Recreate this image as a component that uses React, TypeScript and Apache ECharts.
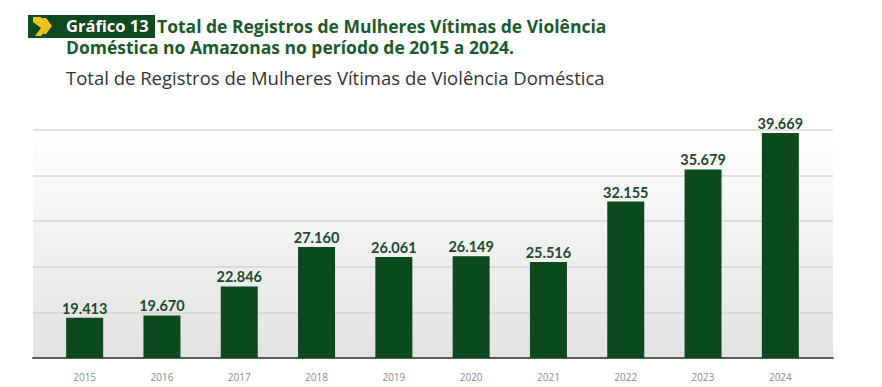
import React, { useEffect, useRef } from "react";
import * as echarts from "echarts";

const years = ["2015", "2016", "2017", "2018", "2019", "2020", "2021", "2022", "2023", "2024"];
const registros = [19413, 19670, 22846, 27160, 26061, 26149, 25516, 32155, 35679, 39669];
const titleTag = "Gráfico 13";
const titleLine1 = "Total de Registros de Mulheres Vítimas de Violência";
const titleLine2 = "Doméstica no Amazonas no período de 2015 a 2024.";
const subtitle = "Total de Registros de Mulheres Vítimas de Violência Doméstica";

const fmt = (v: number) => {
  const s = String(v);
  return s.replace(/\B(?=(\d{3})+(?!\d))/g, ".");
};

export default function App() {
  const ref = useRef<HTMLDivElement>(null);
  useEffect(() => {
    if (!ref.current) return;
    const chart = echarts.init(ref.current, undefined, { renderer: "svg" });
    const darkGreen = "#0b4a1d";
    const yCommon = { type: "value", min: 15000, max: 40000, interval: 5000 };
    chart.setOption({
      animation: false,
      backgroundColor: "#ffffff",
      grid: [
        {
          left: 33, right: 49, top: 130, bottom: 29, show: true, borderWidth: 0,
          backgroundColor: new echarts.graphic.LinearGradient(0, 0, 0, 1, [
            { offset: 0, color: "#ffffff" },
            { offset: 1, color: "#e2e2e2" },
          ]),
        },
        { left: 46, right: 63, top: 130, bottom: 29 },
      ],
      xAxis: [
        {
          gridIndex: 0, type: "category", data: years,
          axisLine: { show: true, lineStyle: { color: "#5a5a5a", width: 2 } },
          axisTick: { show: false }, axisLabel: { show: false },
        },
        {
          gridIndex: 1, type: "category", data: years,
          axisLine: { show: false }, axisTick: { show: false },
          axisLabel: { color: "#8a8a8a", fontSize: 10, margin: 14, fontFamily: "Open Sans" },
        },
      ],
      yAxis: [
        {
          gridIndex: 0, ...yCommon,
          axisLabel: { show: false }, axisLine: { show: false }, axisTick: { show: false },
          splitLine: { show: true, lineStyle: { color: "#d6d6d6", width: 1.5 } },
        },
        {
          gridIndex: 1, ...yCommon, show: false,
          splitLine: { show: false },
        },
      ],
      series: [
        {
          type: "bar", xAxisIndex: 1, yAxisIndex: 1, data: registros, barWidth: 37,
          itemStyle: { color: darkGreen },
          label: {
            show: true, position: "top", distance: 2,
            color: "#1d4a2c", fontWeight: "bold", fontSize: 14.5, fontFamily: "Lato",
            formatter: (p: any) => fmt(p.value),
          },
        },
      ],
      graphic: [
        { type: "rect", shape: { x: 28, y: 15, width: 127, height: 23 }, style: { fill: "#0d4a1f" } },
        { type: "polygon", shape: { points: [[33, 17], [41, 17], [49, 26], [41, 36], [35, 36], [41, 28], [33, 22]] }, style: { fill: "#f2c318" } },
        { type: "polygon", shape: { points: [[42, 18], [46, 18], [52, 26], [46, 34], [43, 34], [48, 26]] }, style: { fill: "#f2c318" } },
        { type: "text", x: 66, y: 25.5, style: { text: titleTag, fill: "#ffffff", font: "bold 16.5px 'Open Sans'", lineHeight: 16, verticalAlign: "middle" } },
        { type: "text", x: 157, y: 26, style: { text: titleLine1, fill: "#1c5a2c", font: "bold 17.5px 'Open Sans'", lineHeight: 18, verticalAlign: "middle" } },
        { type: "text", x: 66, y: 47, style: { text: titleLine2, fill: "#1c5a2c", font: "bold 17.5px 'Open Sans'", lineHeight: 18, verticalAlign: "middle" } },
        { type: "text", x: 66, y: 77, style: { text: subtitle, fill: "#333333", font: "18.5px 'Open Sans'", lineHeight: 20, verticalAlign: "middle" } },
      ],
    });
    return () => chart.dispose();
  }, []);
  return <div ref={ref} style={{ position: "fixed", left: 0, top: 0, width: 882, height: 387 }} />;
}
